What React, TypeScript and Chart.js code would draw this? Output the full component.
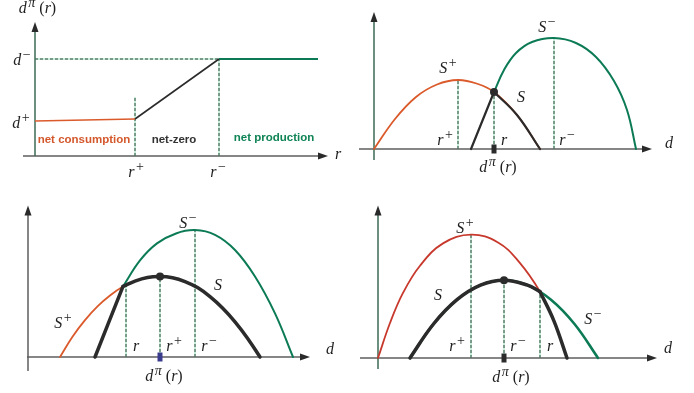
import React, { useEffect, useRef } from 'react';
import { Chart, registerables } from 'chart.js';

Chart.register(...registerables);

type Pt = [number, number];
type Part = { t: string; it?: boolean; sup?: boolean };

// ---------------- Panel A : d^π(r) against r ----------------
const aXMax = 29.3;
const aYMax = 13.4;
const aConsumption: Pt[] = [[0, 3.5], [10.0, 3.7]];
const aNetZero: Pt[] = [[10.0, 3.7], [18.4, 9.7]];
const aProduction: Pt[] = [[18.4, 9.7], [28.3, 9.7]];
const aDMinusGuide: Pt[] = [[0, 9.7], [18.4, 9.7]];
const aRPlusGuide: Pt[] = [[10.0, 0], [10.0, 5.9]];
const aRMinusGuide: Pt[] = [[18.4, 0], [18.4, 9.7]];

// ---------------- Panel B : r between r+ and r- ----------------
const bXMax = 27.8;
const bYMax = 13.7;
const bSPlus: Pt[] = [[0, 0], [2.1, 3.0], [4.2, 5.2], [6.3, 6.45], [8.4, 6.9], [10.4, 6.5], [12.0, 5.7], [14.3, 3.4], [16.6, 0]];
const bSMinus: Pt[] = [[12.0, 5.7], [13.0, 7.9], [14.2, 9.6], [15.8, 10.7], [18.0, 11.1], [20.2, 10.6], [22.2, 9.2], [24.0, 6.8], [25.3, 3.9], [26.2, 0]];
const bSRise: Pt[] = [[9.7, 0], [12.0, 5.7]];
const bSFall: Pt[] = [[12.0, 5.7], [14.3, 3.4], [16.6, 0]];
const bOptimum: Pt = [12.0, 5.7];
const bPeakPlus: Pt = [8.4, 6.9];
const bPeakMinus: Pt = [18.0, 11.1];

// ---------------- Panel C : r below r+ ----------------
const cXMax = 28.2;
const cYMax = 16.0;
const cSPlus: Pt[] = [[3.2, 0], [4.45, 2.15], [5.7, 3.9], [6.95, 5.35], [8.2, 6.5], [9.5, 7.45], [10.7, 8.02], [11.95, 8.4], [13.2, 8.5], [14.45, 8.37], [15.7, 7.97], [16.95, 7.33], [18.2, 6.38], [19.45, 5.18], [20.7, 3.72], [21.95, 1.99], [23.2, 0]];
const cSMinus: Pt[] = [[9.5, 7.45], [11.2, 10.2], [12.9, 12.0], [14.8, 13.05], [16.7, 13.4], [18.7, 12.9], [20.7, 11.3], [22.7, 8.5], [24.7, 4.6], [26.5, 0]];
const cSRise: Pt[] = [[6.7, 0], [9.5, 7.45]];
const cSFall: Pt[] = [[9.5, 7.45], [10.7, 8.02], [11.95, 8.4], [13.2, 8.5], [14.45, 8.37], [15.7, 7.97], [16.95, 7.33], [18.2, 6.38], [19.45, 5.18], [20.7, 3.72], [21.95, 1.99], [23.2, 0]];
const cOptimum: Pt = [13.2, 8.5];
const cKink: Pt = [9.8, 7.6];
const cPeakMinus: Pt = [16.7, 13.4];

// ---------------- Panel D : r above r- ----------------
const dXMax = 27.9;
const dYMax = 15.7;
const dSPlus: Pt[] = [[0, 0], [1.2, 3.6], [2.5, 6.7], [4.2, 9.5], [6.5, 11.8], [9.3, 12.7], [12.0, 11.9], [14.1, 9.9], [16.2, 6.83], [17.6, 3.8], [18.9, 0]];
const dSMinus: Pt[] = [[3.2, 0], [5.55, 3.5], [7.9, 6.0], [10.25, 7.5], [12.6, 8.0], [14.95, 7.5], [17.3, 6.0], [19.65, 3.5], [22.0, 0]];
const dSRise: Pt[] = [[3.2, 0], [5.55, 3.5], [7.9, 6.0], [10.25, 7.5], [12.6, 8.0], [14.95, 7.5], [16.2, 6.83]];
const dSFall: Pt[] = [[16.2, 6.83], [17.6, 3.8], [18.9, 0]];
const dOptimum: Pt = [12.6, 8.0];
const dPeakPlus: Pt = [9.3, 12.7];
const dKink: Pt = [16.2, 6.83];

// ---------------- Styles ----------------
const RED = '#db5a2b';
const RED_D = '#c8392d';
const GREEN = '#0c7b55';
const DARK = '#2b2b2b';
const AXIS = '#5e5e5e';
const AXIS_G = '#3d6a55';
const DASH = '#2c4638';
const DASH_BG = '#93dcb8';
const SERIF = "'Liberation Serif', 'DejaVu Serif', serif";
const SANS = "'Liberation Sans', Arial, sans-serif";

const S_PLUS: Part[] = [{ t: 'S', it: true }, { t: '+', sup: true }];
const S_MINUS: Part[] = [{ t: 'S', it: true }, { t: '−', sup: true }];
const S_ONLY: Part[] = [{ t: 'S', it: true }];
const R_PLUS: Part[] = [{ t: 'r', it: true }, { t: '+', sup: true }];
const R_MINUS: Part[] = [{ t: 'r', it: true }, { t: '−', sup: true }];
const R_ONLY: Part[] = [{ t: 'r', it: true }];
const D_ONLY: Part[] = [{ t: 'd', it: true }];
const D_PLUS: Part[] = [{ t: 'd', it: true }, { t: '+', sup: true }];
const D_MINUS: Part[] = [{ t: 'd', it: true }, { t: '−', sup: true }];
const D_PI: Part[] = [{ t: 'd', it: true }, { t: 'π', it: true, sup: true }, { t: ' (' }, { t: 'r', it: true }, { t: ')' }];

type MathLabel = { parts: Part[]; x: number; y: number };
type TextLabel = { text: string; x: number; y: number; color: string };

type Panel = {
  box: [number, number, number, number];
  origin: [number, number];
  xMax: number;
  yMax: number;
  xExt: number;
  yExt: number;
  yAxisColor: string;
  datasets: any[];
  math: MathLabel[];
  texts?: TextLabel[];
};

const toXY = (pts: Pt[]) => pts.map(([x, y]) => ({ x, y }));

const curve = (pts: Pt[], color: string, width: number, order: number) => ({
  data: toXY(pts),
  showLine: true,
  borderColor: color,
  borderWidth: width,
  pointRadius: 0,
  pointHoverRadius: 0,
  tension: 0.4,
  borderCapStyle: 'round',
  fill: false,
  clip: false,
  order,
});

const segment = (pts: Pt[], color: string, width: number, order: number) => ({
  ...curve(pts, color, width, order),
  tension: 0,
  borderCapStyle: 'butt',
});

const guide = (pts: Pt[]) => [
  { ...segment(pts, DASH, 1, 6), borderDash: [3, 2] },
  segment(pts, DASH_BG, 1, 7),
];

const vGuide = (p: Pt) => guide([[p[0], 0], p]);

const dot = (p: Pt) => ({
  data: toXY([p]),
  showLine: false,
  pointRadius: 4,
  pointHoverRadius: 4,
  pointBackgroundColor: DARK,
  pointBorderWidth: 0,
  clip: false,
  order: 0,
});

const marker = (p: Pt, color: string) => ({
  data: [{ x: p[0], y: 0 }],
  showLine: false,
  pointStyle: 'line',
  pointRotation: 90,
  pointRadius: 4.5,
  pointHoverRadius: 4.5,
  pointBorderWidth: 5,
  pointBorderColor: color,
  borderColor: color,
  clip: false,
  order: 0,
});

const panels: Panel[] = [
  {
    box: [0, 0, 347, 196],
    origin: [35, 156],
    xMax: aXMax,
    yMax: aYMax,
    xExt: 12,
    yExt: 0,
    yAxisColor: AXIS_G,
    datasets: [
      segment(aConsumption, RED, 1.6, 2),
      segment(aNetZero, DARK, 1.6, 2),
      segment(aProduction, GREEN, 1.8, 2),
      ...guide(aDMinusGuide),
      ...guide(aRPlusGuide),
      ...guide(aRMinusGuide),
    ],
    math: [
      { parts: D_PI, x: 0.25, y: 14.3 },
      { parts: D_MINUS, x: -1.3, y: 9.1 },
      { parts: D_PLUS, x: -1.4, y: 2.8 },
      { parts: R_PLUS, x: 10.1, y: -2.1 },
      { parts: R_MINUS, x: 18.3, y: -2.1 },
      { parts: R_ONLY, x: 30.3, y: -0.3 },
    ],
    texts: [
      { text: 'net consumption', x: 4.9, y: 1.6, color: '#d4582c' },
      { text: 'net-zero', x: 13.9, y: 1.6, color: '#333333' },
      { text: 'net production', x: 23.9, y: 1.8, color: '#0f8456' },
    ],
  },
  {
    box: [347, 0, 347, 196],
    origin: [374, 149],
    xMax: bXMax,
    yMax: bYMax,
    xExt: 15,
    yExt: 11,
    yAxisColor: AXIS_G,
    datasets: [
      dot(bOptimum),
      marker(bOptimum, DARK),
      curve(bSRise, DARK, 2.2, 1),
      curve(bSFall, DARK, 2.2, 1),
      curve(bSPlus, RED, 1.8, 3),
      curve(bSMinus, GREEN, 2, 3),
      ...vGuide(bPeakPlus),
      ...vGuide(bOptimum),
      ...vGuide(bPeakMinus),
    ],
    math: [
      { parts: S_PLUS, x: 7.4, y: 7.6 },
      { parts: S_MINUS, x: 17.3, y: 11.7 },
      { parts: S_ONLY, x: 14.7, y: 4.7 },
      { parts: R_PLUS, x: 7.1, y: 0.4 },
      { parts: R_ONLY, x: 13.0, y: 0.4 },
      { parts: R_MINUS, x: 19.3, y: 0.4 },
      { parts: D_ONLY, x: 29.5, y: 0.1 },
      { parts: D_PI, x: 12.4, y: -2.3 },
    ],
  },
  {
    box: [0, 196, 347, 197],
    origin: [28, 357],
    xMax: cXMax,
    yMax: cYMax,
    xExt: 1,
    yExt: 14,
    yAxisColor: AXIS,
    datasets: [
      dot(cOptimum),
      marker(cOptimum, '#3b3b8e'),
      curve(cSRise, DARK, 3.5, 1),
      curve(cSFall, DARK, 3.5, 1),
      curve(cSPlus, RED, 1.8, 3),
      curve(cSMinus, GREEN, 2, 3),
      ...vGuide(cKink),
      ...vGuide(cOptimum),
      ...vGuide(cPeakMinus),
    ],
    math: [
      { parts: S_MINUS, x: 16.0, y: 13.6 },
      { parts: S_ONLY, x: 19.0, y: 7.1 },
      { parts: S_PLUS, x: 3.5, y: 3.1 },
      { parts: R_ONLY, x: 10.8, y: 0.6 },
      { parts: R_PLUS, x: 14.6, y: 0.6 },
      { parts: R_MINUS, x: 18.1, y: 0.6 },
      { parts: D_ONLY, x: 30.2, y: 0.3 },
      { parts: D_PI, x: 13.6, y: -2.5 },
    ],
  },
  {
    box: [347, 196, 347, 197],
    origin: [378, 358],
    xMax: dXMax,
    yMax: dYMax,
    xExt: 18,
    yExt: 11,
    yAxisColor: AXIS_G,
    datasets: [
      dot(dOptimum),
      marker(dOptimum, DARK),
      curve(dSRise, DARK, 3.5, 1),
      curve(dSFall, DARK, 3.5, 1),
      curve(dSPlus, RED_D, 1.8, 3),
      curve(dSMinus, GREEN, 2.6, 3),
      ...vGuide(dPeakPlus),
      ...vGuide(dOptimum),
      ...vGuide(dKink),
    ],
    math: [
      { parts: S_PLUS, x: 8.7, y: 12.9 },
      { parts: S_ONLY, x: 6.0, y: 6.0 },
      { parts: S_MINUS, x: 21.5, y: 3.5 },
      { parts: R_PLUS, x: 7.9, y: 0.7 },
      { parts: R_MINUS, x: 14.0, y: 0.7 },
      { parts: R_ONLY, x: 17.2, y: 0.7 },
      { parts: D_ONLY, x: 29.0, y: 0.5 },
      { parts: D_PI, x: 13.3, y: -2.5 },
    ],
  },
];

const BASE = 16;
const SUP = 14;
const RAISE = 6;

function drawMath(ctx: CanvasRenderingContext2D, parts: Part[], cx: number, by: number) {
  const font = (p: Part) => `${p.it ? 'italic ' : ''}${p.sup ? SUP : BASE}px ${SERIF}`;
  let w = 0;
  const widths = parts.map((p) => {
    ctx.font = font(p);
    const ww = ctx.measureText(p.t).width + (p.sup ? 1.5 : 0);
    w += ww;
    return ww;
  });
  let x = cx - w / 2;
  ctx.fillStyle = '#1e1e1e';
  ctx.textBaseline = 'alphabetic';
  ctx.textAlign = 'left';
  parts.forEach((p, i) => {
    ctx.font = font(p);
    ctx.fillText(p.t, x + (p.sup ? 1.5 : 0), by - (p.sup ? RAISE : 0));
    x += widths[i];
  });
}

function arrow(ctx: CanvasRenderingContext2D, x: number, y: number, dir: 'right' | 'up') {
  ctx.beginPath();
  if (dir === 'right') {
    ctx.moveTo(x, y);
    ctx.lineTo(x - 10, y - 3.5);
    ctx.lineTo(x - 10, y + 3.5);
  } else {
    ctx.moveTo(x, y);
    ctx.lineTo(x - 3.5, y + 10);
    ctx.lineTo(x + 3.5, y + 10);
  }
  ctx.closePath();
  ctx.fill();
}

function makeDecor(p: Panel) {
  return {
    id: 'decor',
    beforeDatasetsDraw(chart: any) {
      const { ctx, chartArea } = chart;
      const { left, right, top, bottom } = chartArea;
      ctx.save();
      ctx.lineWidth = 1.5;
      ctx.strokeStyle = AXIS;
      ctx.beginPath();
      ctx.moveTo(left - p.xExt, bottom);
      ctx.lineTo(right - 6, bottom);
      ctx.stroke();
      ctx.strokeStyle = p.yAxisColor;
      ctx.beginPath();
      ctx.moveTo(left, bottom + p.yExt);
      ctx.lineTo(left, top + 6);
      ctx.stroke();
      ctx.fillStyle = '#2a2a2a';
      arrow(ctx, right, bottom, 'right');
      arrow(ctx, left, top, 'up');
      ctx.restore();
    },
    afterDraw(chart: any) {
      const { ctx, scales } = chart;
      ctx.save();
      p.math.forEach((m) => {
        drawMath(ctx, m.parts, scales.x.getPixelForValue(m.x), scales.y.getPixelForValue(m.y));
      });
      (p.texts || []).forEach((t) => {
        ctx.font = `bold 11.5px ${SANS}`;
        ctx.fillStyle = t.color;
        ctx.textAlign = 'center';
        ctx.textBaseline = 'middle';
        ctx.fillText(t.text, scales.x.getPixelForValue(t.x), scales.y.getPixelForValue(t.y));
      });
      ctx.restore();
    },
  };
}

function PanelChart({ p }: { p: Panel }) {
  const ref = useRef<HTMLCanvasElement | null>(null);
  useEffect(() => {
    if (!ref.current) return;
    const [bl, bt, bw, bh] = p.box;
    const [ox, oy] = p.origin;
    const xPx = p.xMax * 10;
    const yPx = p.yMax * 10;
    const chart = new Chart(ref.current, {
      type: 'scatter',
      data: { datasets: p.datasets },
      options: {
        animation: false,
        responsive: false,
        devicePixelRatio: 1,
        events: [],
        layout: {
          padding: {
            left: ox - bl,
            top: oy - yPx - bt,
            right: bl + bw - (ox + xPx),
            bottom: bt + bh - oy,
          },
        },
        scales: {
          x: { type: 'linear', min: 0, max: p.xMax, display: false },
          y: { type: 'linear', min: 0, max: p.yMax, display: false },
        },
        plugins: { legend: { display: false }, tooltip: { enabled: false } },
      } as any,
      plugins: [makeDecor(p)],
    } as any);
    return () => chart.destroy();
  }, [p]);
  const [bl, bt, bw, bh] = p.box;
  return (
    <canvas
      ref={ref}
      width={bw}
      height={bh}
      style={{ position: 'absolute', left: bl, top: bt, width: bw, height: bh }}
    />
  );
}

export default function App() {
  return (
    <div style={{ position: 'absolute', left: 0, top: 0, width: 694, height: 393, background: '#ffffff', overflow: 'hidden' }}>
      {panels.map((p, i) => (
        <PanelChart key={i} p={p} />
      ))}
    </div>
  );
}
